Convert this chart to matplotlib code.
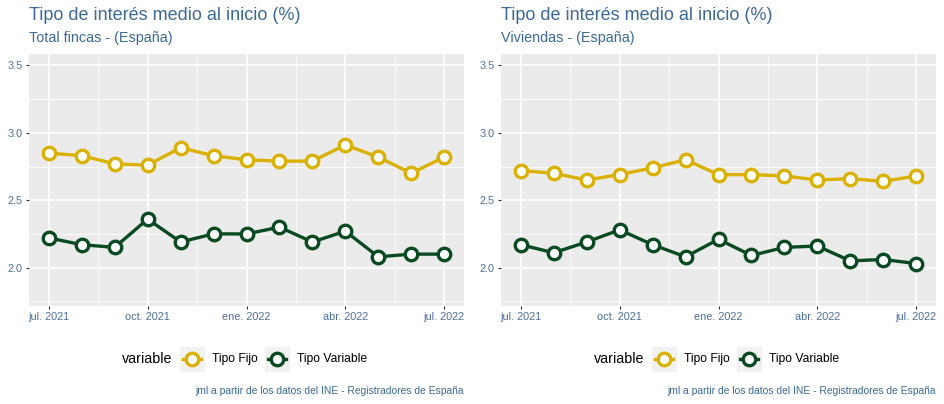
import numpy as np
import matplotlib
matplotlib.use("Agg")
import matplotlib.pyplot as plt
from matplotlib.patches import Rectangle
from matplotlib.lines import Line2D

plt.rcParams['font.family'] = ['Liberation Sans', 'DejaVu Sans']

# datos (jul. 2021 - jul. 2022)
meses = np.arange(13)
etiquetas_x = ['jul. 2021', 'oct. 2021', 'ene. 2022', 'abr. 2022', 'jul. 2022']
pos_x = [0, 3, 6, 9, 12]

total_fijo = [2.85, 2.83, 2.77, 2.76, 2.89, 2.83, 2.80, 2.79, 2.79, 2.91, 2.82, 2.70, 2.82]
total_variable = [2.22, 2.17, 2.15, 2.36, 2.19, 2.25, 2.25, 2.30, 2.19, 2.27, 2.08, 2.10, 2.10]
viv_fijo = [2.72, 2.70, 2.65, 2.69, 2.74, 2.80, 2.69, 2.69, 2.68, 2.65, 2.66, 2.64, 2.68]
viv_variable = [2.17, 2.11, 2.19, 2.28, 2.17, 2.08, 2.21, 2.09, 2.15, 2.16, 2.05, 2.06, 2.03]

c_fijo = '#DBB100'
c_var = '#0A4A22'
c_titulo = '#3B6A98'
c_ticks = '#4A6E9C'

W, H = 944, 404
fig = plt.figure(figsize=(W / 100, H / 100), dpi=100)


def panel(x0, x1, fijo, variable, subtitulo):
    ax = fig.add_axes([x0 / W, (H - 306) / H, (x1 - x0) / W, 252 / H])
    ax.set_facecolor('#EBEBEB')
    for s in ax.spines.values():
        s.set_visible(False)
    ax.set_xlim(-0.6, 12.6)
    ax.set_ylim(1.715, 3.585)
    ax.set_xticks(pos_x)
    ax.set_xticklabels(etiquetas_x)
    ax.set_xticks([1.5, 4.5, 7.5, 10.5], minor=True)
    ax.set_yticks([2.0, 2.5, 3.0, 3.5])
    ax.set_yticklabels(['2.0', '2.5', '3.0', '3.5'])
    ax.set_yticks([1.75, 2.25, 2.75, 3.25], minor=True)
    ax.grid(True, which='major', color='white', lw=1.1)
    ax.grid(True, which='minor', color='white', lw=0.55)
    ax.set_axisbelow(True)
    ax.tick_params(which='major', length=2.5, width=0.8, color='#333333',
                   labelsize=7.8, labelcolor=c_ticks, pad=2)
    ax.tick_params(which='minor', length=0)
    kw = dict(lw=2.4, marker='o', ms=9, mfc='white', mew=2.4)
    ax.plot(meses, fijo, color=c_fijo, mec=c_fijo, **kw)
    ax.plot(meses, variable, color=c_var, mec=c_var, **kw)

    fig.text(x0 / W, 1 - 16 / H, 'Tipo de interés medio al inicio (%)',
             fontsize=13, color=c_titulo, va='center', ha='left')
    fig.text(x0 / W, 1 - 38 / H, subtitulo,
             fontsize=10.4, color=c_titulo, va='center', ha='left')

    # leyenda
    dx = x0 - 30
    yc = 359
    fig.text((123 + dx) / W, 1 - yc / H, 'variable', fontsize=10.3,
             va='center', ha='left', color='black')
    for bx, col, lab in [(181, c_fijo, 'Tipo Fijo'), (266, c_var, 'Tipo Variable')]:
        fig.patches.append(Rectangle(((bx + dx) / W, 1 - (yc + 12) / H), 24 / W, 24 / H,
                                     transform=fig.transFigure, color='#F2F2F2', zorder=1))
        fig.lines.append(Line2D([(bx + dx + 3) / W, (bx + dx + 21) / W], [1 - yc / H] * 2,
                                transform=fig.transFigure, color=col, lw=2.4, zorder=2))
        fig.lines.append(Line2D([(bx + dx + 12) / W], [1 - yc / H], transform=fig.transFigure,
                                marker='o', ms=9, mfc='white', mec=col, mew=2.4, zorder=3))
        fig.text((bx + dx + 32) / W, 1 - yc / H, lab, fontsize=8.7,
                 va='center', ha='left', color='black')
    fig.text(x1 / W, 1 - 391 / H, 'jml a partir de los datos del INE - Registradores de España',
             fontsize=7.4, color=c_titulo, va='center', ha='right')
    return ax


panel(29, 464, total_fijo, total_variable, 'Total fincas - (España)')
panel(501, 936, viv_fijo, viv_variable, 'Viviendas - (España)')

fig.savefig('out.png', dpi=100, facecolor='white')
